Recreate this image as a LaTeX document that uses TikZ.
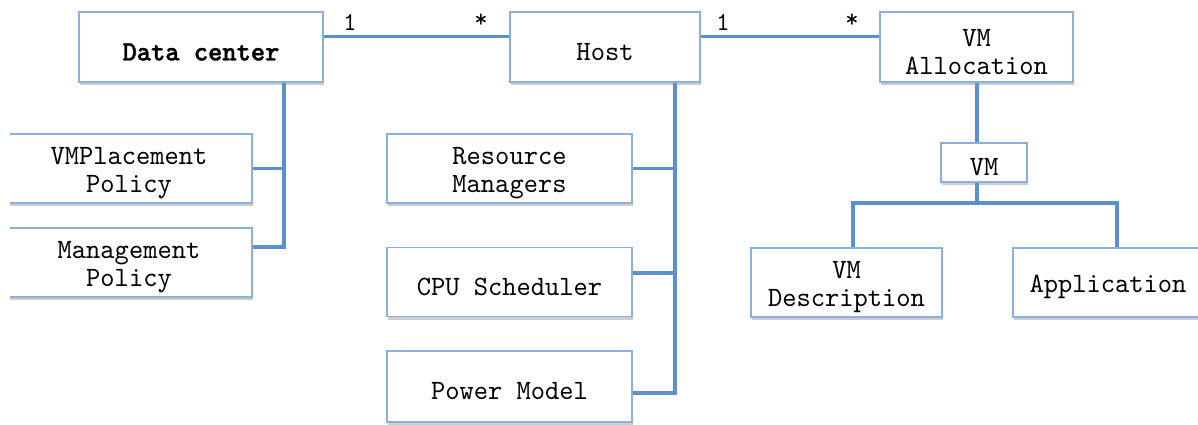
\documentclass[tikz,border=0pt]{standalone}
\usepackage{fontspec}
\setmainfont{lmmono10-regular.otf}[FakeStretch=0.97, BoldFont=lmmonolt10-bold.otf, BoldFeatures={FakeBold=1.2}]
\usetikzlibrary{shadows,calc}
\definecolor{boxline}{HTML}{8AB0E0}
\definecolor{wire}{HTML}{5B8FD2}
% strut that lowers the text block a little inside its box
\newcommand\toppad{\rule{0pt}{27pt}}
\tikzset{
  box/.style={draw=boxline, line width=1.6pt, fill=white, inner sep=0pt,
    align=center, font=\fontsize{28}{28}\selectfont,
    drop shadow={shadow xshift=1pt, shadow yshift=-3pt, fill=black, opacity=0.2}},
  wireline/.style={draw=wire, line width=3.5pt},
  mult/.style={inner sep=0pt, font=\fontsize{26}{28}\selectfont}
}
\begin{document}
\begin{tikzpicture}[x=1pt, y=-1pt]
\useasboundingbox (0,0) rectangle (1198,424);
\clip (10,0) rectangle (1198,424);

% top row
\node[box, minimum width=244pt, minimum height=70pt] (dc) at (201,47) {\toppad\textbf{Data center}};
\node[box, minimum width=190pt, minimum height=70pt] (host) at (605,47) {\toppad Host};
\node[box, minimum width=193pt, minimum height=70pt] (va) at (976.5,47) {\toppad VM\\Allocation};

% data center parts
\node[box, minimum width=246pt, minimum height=69pt] (vmp) at (129,168.5) {\toppad VMPlacement\\Policy};
\node[box, minimum width=246pt, minimum height=69pt] (mgmt) at (129,262.5) {\toppad Management\\Policy};

% host parts
\node[box, minimum width=245pt, minimum height=69pt] (rm) at (509.5,168.5) {\toppad Resource\\Managers};
\node[box, minimum width=245pt, minimum height=69pt] (cpu) at (509.5,282) {\toppad CPU Scheduler};
\node[box, minimum width=245pt, minimum height=71pt] (pm) at (509.5,386.5) {\toppad Power Model};

% vm parts
\node[box, minimum width=86pt, minimum height=39pt] (vm) at (984,162.5) {\toppad VM};
\node[box, minimum width=191pt, minimum height=69pt] (vmd) at (846.5,282.5) {\toppad VM\\Description};
\node[box, minimum width=190pt, minimum height=69pt] (app) at (1108,282.5) {\toppad Application};

% associations with multiplicities
\coordinate (dcr) at ($(dc.north east)+(0,25.5)$);
\draw[wireline] (dcr) -- (dcr -| host.west);
\node[mult] (m1) at (350,22) {1};
\node[mult] (m2) at (481,21) {*};

\coordinate (hr) at ($(host.north east)+(0,25.5)$);
\draw[wireline] (hr) -- (hr -| va.west);
\node[mult] (m3) at (723,22) {1};
\node[mult] (m4) at (852,21) {*};

% data center composition
\coordinate (dct) at ($(dc.south)+(83,0)$);
\coordinate (dcb) at (284,247);
\draw[wireline] (dct) -- (dcb) -- (dcb -| mgmt.east);
\draw[wireline] (vmp.east) -- (vmp.east -| dct);

% host composition
\coordinate (ht) at ($(host.south)+(70,0)$);
\coordinate (hb) at (675,393);
\coordinate (hc) at (675,273);
\draw[wireline] (ht) -- (hb) -- (hb -| pm.east);
\draw[wireline] (rm.east) -- (rm.east -| ht);
\draw[wireline] (hc) -- (hc -| cpu.east);

% vm allocation composition
\coordinate (vx) at (977,203);
\coordinate (lb) at (853,203);
\coordinate (rb) at (1117,203);
\draw[wireline] (va.south -| vx) -- (vm.north -| vx);
\draw[wireline] (vm.south -| vx) -- (vx);
\draw[wireline] (lb |- vmd.north) -- (lb) -- (rb) -- (rb |- app.north);
\end{tikzpicture}
\end{document}
